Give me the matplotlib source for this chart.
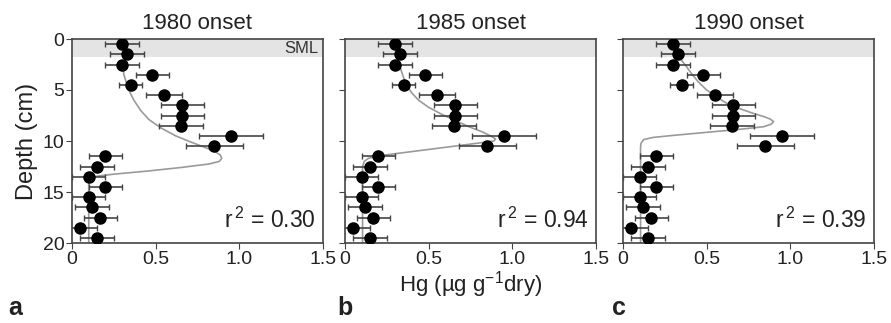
import matplotlib
matplotlib.use("Agg")
from matplotlib import pyplot as plt

plt.rcParams['font.family'] = ['Liberation Sans', 'DejaVu Sans']
plt.rcParams['mathtext.fontset'] = 'custom'
plt.rcParams['mathtext.rm'] = 'Liberation Sans'

# measured Hg profile (same core in all three panels)
depth = [0.5, 1.5, 2.5, 3.5, 4.5, 5.5, 6.5, 7.5, 8.5, 9.5,
         10.5, 11.5, 12.5, 13.5, 14.5, 15.5, 16.5, 17.5, 18.5, 19.5]
hg = [0.30, 0.33, 0.30, 0.48, 0.35, 0.55, 0.66, 0.66, 0.65, 0.95,
      0.85, 0.20, 0.15, 0.10, 0.20, 0.10, 0.12, 0.17, 0.05, 0.15]
hg_err = [0.10, 0.10, 0.10, 0.10, 0.07, 0.11, 0.13, 0.13, 0.13, 0.19,
          0.17, 0.10, 0.10, 0.10, 0.10, 0.10, 0.10, 0.10, 0.10, 0.10]

# modelled profiles
model_a_x = [0.305, 0.31, 0.325, 0.345, 0.37, 0.41, 0.46, 0.53, 0.62, 0.71, 0.79, 0.85,
             0.885, 0.895, 0.88, 0.82, 0.65, 0.45, 0.25, 0.15, 0.11, 0.10, 0.10]
model_a_y = [2.7, 3.5, 4.3, 5.2, 6.0, 7.0, 7.9, 8.7, 9.5, 10.1, 10.6, 11.0,
             11.35, 11.7, 12.0, 12.25, 12.6, 12.95, 13.25, 13.45, 13.6, 14.0, 20.0]
model_b_x = [0.325, 0.34, 0.355, 0.375, 0.40, 0.44, 0.50, 0.58, 0.66, 0.74, 0.82, 0.87,
             0.90, 0.89, 0.80, 0.25, 0.19, 0.14, 0.115, 0.105, 0.105]
model_b_y = [2.55, 3.3, 4.0, 4.7, 5.3, 6.0, 6.7, 7.4, 8.0, 8.6, 9.1, 9.5,
             9.8, 10.0, 10.2, 11.35, 11.5, 11.7, 12.0, 12.5, 20.0]
model_c_x = [0.33, 0.35, 0.37, 0.41, 0.45, 0.50, 0.57, 0.64, 0.71, 0.78, 0.84, 0.88,
             0.90, 0.885, 0.84, 0.70, 0.50, 0.30, 0.18, 0.125, 0.108, 0.105, 0.105]
model_c_y = [1.7, 2.1, 2.5, 3.4, 4.2, 5.0, 5.8, 6.5, 6.9, 7.3, 7.6, 7.85,
             8.1, 8.35, 8.6, 8.85, 9.15, 9.45, 9.65, 9.85, 10.2, 10.6, 20.0]

titles = ['1980 onset', '1985 onset', '1990 onset']
r2 = ['0.30', '0.94', '0.39']
letters = ['a', 'b', 'c']
models = [(model_a_x, model_a_y), (model_b_x, model_b_y), (model_c_x, model_c_y)]

fig = plt.figure(figsize=(8.91, 3.23), dpi=100)
lefts = [72 / 891, 345 / 891, 623 / 891]
spine_col = '#444444'
txt_col = '#222222'

for i in range(3):
    ax = fig.add_axes([lefts[i], 1 - 243 / 323, 251 / 891, 204 / 323])
    ax.axhspan(0, 1.8, color='#e4e4e4', lw=0, zorder=0)
    ax.plot(models[i][0], models[i][1], color='#9a9a9a', lw=1.2, zorder=2,
            solid_joinstyle='round')
    ax.errorbar(hg, depth, xerr=hg_err, fmt='o', color='black', ms=8,
                ecolor='#444444', elinewidth=1.2, capsize=2, capthick=1, zorder=3)
    ax.set_xlim(0, 1.5)
    ax.set_ylim(20, 0)
    ax.set_xticks([0, 0.5, 1.0, 1.5])
    ax.set_xticklabels(['0', '0.5', '1.0', '1.5'])
    ax.set_yticks([0, 5, 10, 15, 20])
    ax.tick_params(direction='out', length=4, width=0.8, color=spine_col,
                   labelsize=14, labelcolor=txt_col, pad=1.5)
    if i > 0:
        ax.set_yticklabels([])
    for s in ax.spines.values():
        s.set_color(spine_col)
        s.set_linewidth(1.2)
    ax.set_title(titles[i], fontsize=16, color=txt_col, pad=7)
    ax.text(0.97, 0.05, 'r$^{\\,2}$ = ' + r2[i], transform=ax.transAxes,
            ha='right', va='bottom', fontsize=16.5, color=txt_col)
    if i == 0:
        ax.text(0.98, 0.955, 'SML', transform=ax.transAxes, ha='right',
                va='center', fontsize=12, color='#333333')
        ax.set_ylabel('Depth (cm)', fontsize=17, color=txt_col, labelpad=3)
    if i == 1:
        ax.set_xlabel('Hg (\u00b5g g$^{-1}$dry)', fontsize=16, color=txt_col, labelpad=1)

letter_x = [8, 337, 612]
for i in range(3):
    fig.text(letter_x[i] / 891, 1 - 315 / 323, letters[i], fontsize=18,
             fontweight='bold', color=txt_col, ha='left', va='baseline')

fig.savefig('out.png', dpi=100)
